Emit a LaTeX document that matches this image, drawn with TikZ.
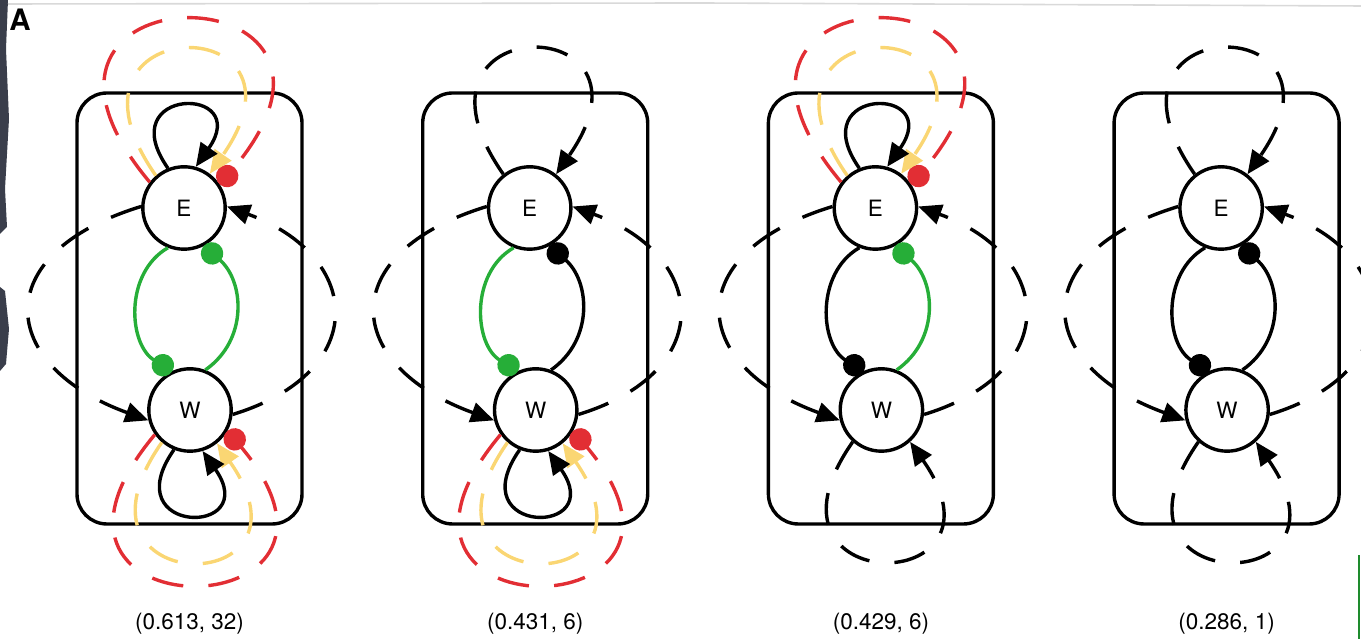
\documentclass[tikz,border=0pt]{standalone}
\usepackage{fontspec}
\setmainfont{TeX Gyre Heros}
\usetikzlibrary{arrows.meta}
\definecolor{loopred}{RGB}{226,46,52}
\definecolor{loopyellow}{RGB}{250,214,115}
\definecolor{linkgreen}{RGB}{38,174,56}
\definecolor{scanedge}{RGB}{58,62,75}

\begin{document}
\begin{tikzpicture}[x=0.25mm,y=0.25mm,>={Triangle[length=5.8mm,width=5mm]},
   unit/.style={circle,draw,fill=white,line width=0.85mm,minimum size=20.6mm,inner sep=0pt,font=\fontsize{16}{19}\selectfont},
   frame/.style={line width=0.85mm,rounded corners=7.5mm},
   link/.style={line width=0.85mm},
   gapline/.style={dash pattern=on 8mm off 6.3mm},
   inh/.style={-{Circle[length=5.6mm]}},
   caption/.style={font=\fontsize{16}{19}\selectfont}]
   \useasboundingbox (0,0) rectangle (1361,639);
   \clip (0,0) rectangle (1361,639);

   \fill[scanedge] (0,639) -- (8,639) -- (6,590) -- (9,520) -- (5,450) -- (7,412) -- (0,405) -- cycle;
   \fill[scanedge] (0,352) -- (5,348) -- (9,310) -- (6,275) -- (0,268) -- cycle;
   \draw[black!15,line width=0.4mm] (8,635) -- (700,636) -- (1361,633);
   \draw[linkgreen!80!black,line width=0.5mm] (1359,0) -- (1359,84);

   \node[font=\bfseries\fontsize{21}{24}\selectfont] (panelA) at (20,619) {A};

   \draw[frame] (77,115) rectangle (302,546);
   \draw[frame] (422.7,115) rectangle (647.7,546);
   \draw[frame] (768.4,115) rectangle (993.4,546);
   \draw[frame] (1114.1,115) rectangle (1339.1,546);

   \node[unit] (E1) at (184,431) {E};
   \node[unit] (W1) at (190,229) {W};
   \node[unit] (E2) at (529.7,431) {E};
   \node[unit] (W2) at (535.7,229) {W};
   \node[unit] (E3) at (875.4,431) {E};
   \node[unit] (W3) at (881.4,229) {W};
   \node[unit] (E4) at (1221.1,431) {E};
   \node[unit] (W4) at (1227.1,229) {W};

   \node[caption] (val1) at (189.5,15) {(0.613, 32)};
   \node[caption] (val2) at (535.2,15) {(0.431, 6)};
   \node[caption] (val3) at (880.9,15) {(0.429, 6)};
   \node[caption] (val4) at (1226.6,15) {(0.286, 1)};

   % panel 1
   \draw [link,gapline,->] (E1.178) .. controls +(197:161) and +(160:161) .. (W1.194);
   \draw [link,gapline,->] (W1.354) .. controls +(17:145) and +(-20:145) .. (E1.2);
   \draw [link,linkgreen,inh] (E1.248) .. controls +(210:51) and +(150:51) .. (W1.114);
   \draw [link,linkgreen,inh] (W1.69) .. controls +(35:53) and +(320:53) .. (E1.297);
   \draw [link,gapline,loopred,inh] (E1.143) .. controls +(130:285) and +(50:285) .. (E1.33);
   \draw [link,gapline,loopyellow,->] (E1.131) .. controls +(125:203) and +(55:203) .. (E1.53);
   \draw [link,->] (E1.112) .. controls +(125:100) and +(55:100) .. (E1.74);
   \draw [link,gapline,loopred,inh] (W1.215) .. controls +(230:264) and +(310:264) .. (W1.331);
   \draw [link,gapline,loopyellow,->] (W1.229) .. controls +(235:193) and +(305:193) .. (W1.309);
   \draw [link,->] (W1.248) .. controls +(235:105) and +(305:105) .. (W1.287);

   % panel 2
   \draw [link,gapline,->] (E2.178) .. controls +(197:161) and +(160:161) .. (W2.194);
   \draw [link,gapline,->] (W2.354) .. controls +(17:145) and +(-20:145) .. (E2.2);
   \draw [link,linkgreen,inh] (E2.248) .. controls +(210:51) and +(150:51) .. (W2.114);
   \draw [link,inh] (W2.69) .. controls +(35:53) and +(320:53) .. (E2.297);
   \draw [link,gapline,->] (E2.128) .. controls +(125:203) and +(55:203) .. (E2.52);
   \draw [link,gapline,loopred,inh] (W2.215) .. controls +(230:264) and +(310:264) .. (W2.331);
   \draw [link,gapline,loopyellow,->] (W2.229) .. controls +(235:193) and +(305:193) .. (W2.309);
   \draw [link,->] (W2.248) .. controls +(235:105) and +(305:105) .. (W2.287);

   % panel 3
   \draw [link,gapline,->] (E3.178) .. controls +(197:161) and +(160:161) .. (W3.194);
   \draw [link,gapline,->] (W3.354) .. controls +(17:145) and +(-20:145) .. (E3.2);
   \draw [link,inh] (E3.248) .. controls +(210:51) and +(150:51) .. (W3.114);
   \draw [link,linkgreen,inh] (W3.69) .. controls +(35:53) and +(320:53) .. (E3.297);
   \draw [link,gapline,loopred,inh] (E3.143) .. controls +(130:285) and +(50:285) .. (E3.33);
   \draw [link,gapline,loopyellow,->] (E3.131) .. controls +(125:203) and +(55:203) .. (E3.53);
   \draw [link,->] (E3.112) .. controls +(125:100) and +(55:100) .. (E3.74);
   \draw [link,gapline,->] (W3.228) .. controls +(235:193) and +(305:193) .. (W3.312);

   % panel 4
   \draw [link,gapline,->] (E4.178) .. controls +(197:161) and +(160:161) .. (W4.194);
   \draw [link,gapline,->] (W4.354) .. controls +(17:145) and +(-20:145) .. (E4.2);
   \draw [link,inh] (E4.248) .. controls +(210:51) and +(150:51) .. (W4.114);
   \draw [link,inh] (W4.69) .. controls +(35:53) and +(320:53) .. (E4.297);
   \draw [link,gapline,->] (E4.128) .. controls +(125:203) and +(55:203) .. (E4.52);
   \draw [link,gapline,->] (W4.228) .. controls +(235:193) and +(305:193) .. (W4.312);
\end{tikzpicture}
\end{document}
